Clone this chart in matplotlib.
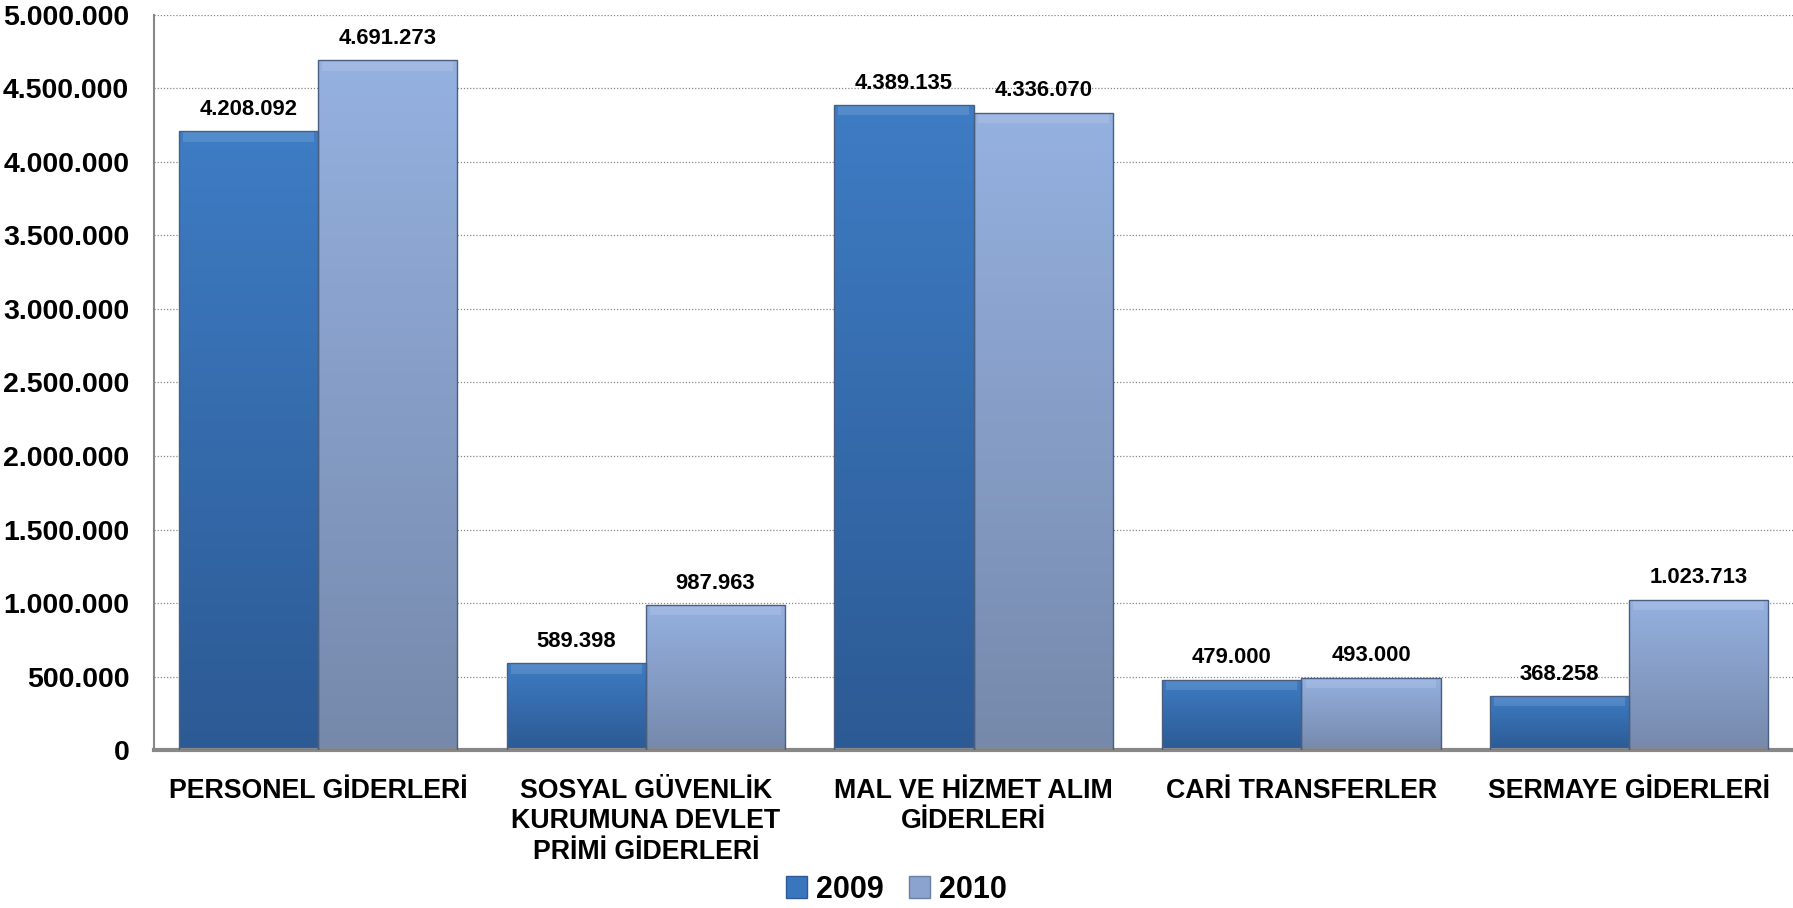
import numpy as np
import matplotlib.pyplot as plt
from matplotlib.patches import Patch
from matplotlib.colors import LinearSegmentedColormap

categories = ['PERSONEL GİDERLERİ',
              'SOSYAL GÜVENLİK\nKURUMUNA DEVLET\nPRİMİ GİDERLERİ',
              'MAL VE HİZMET ALIM\nGİDERLERİ',
              'CARİ TRANSFERLER',
              'SERMAYE GİDERLERİ']
years = ['2009', '2010']
values_2009 = [4208092, 589398, 4389135, 479000, 368258]
values_2010 = [4691273, 987963, 4336070, 493000, 1023713]
yticks = [0, 500000, 1000000, 1500000, 2000000, 2500000, 3000000,
          3500000, 4000000, 4500000, 5000000]

plt.rcParams['font.family'] = ['Liberation Sans', 'DejaVu Sans']
plt.rcParams['font.weight'] = 'bold'

def fmt(v):
    return f'{v:,}'.replace(',', '.')

# top -> bottom colours for each series
grad = {'2009': ('#3e7cc4', '#2c5a94'),
        '2010': ('#95b1e0', '#7689ab')}

fig = plt.figure(figsize=(17.93, 9.08), dpi=100)
ax = fig.add_axes([0.086, 0.174, 0.914, 0.8095])

x = np.arange(len(categories))
w = 0.425
for series, vals, off in [('2009', values_2009, -w / 2), ('2010', values_2010, w / 2)]:
    top, bot = grad[series]
    cmap = LinearSegmentedColormap.from_list(series, [bot, top])
    bars = ax.bar(x + off, vals, width=w, color='none', edgecolor='#4a5f80',
                  linewidth=1.0, zorder=3)
    for b in bars:
        x0, y0 = b.get_x(), b.get_y()
        bw, bh = b.get_width(), b.get_height()
        g = np.linspace(0, 1, 256).reshape(-1, 1)
        im = ax.imshow(g, cmap=cmap, origin='lower', aspect='auto',
                       extent=[x0, x0 + bw, y0, y0 + bh], zorder=2)
        im.set_clip_path(b)
        # light bevel at top of bar
        ax.fill_between([x0 + bw * 0.03, x0 + bw * 0.97], y0 + bh - 70000, y0 + bh,
                        color='white', alpha=0.12, lw=0, zorder=2.5)
    ax.bar_label(bars, labels=[fmt(v) for v in vals], padding=8,
                 fontsize=15.8, fontweight='bold')

ax.set_xlim(-0.5, 4.5)
ax.set_ylim(0, 5000000)
ax.set_yticks(yticks)
ax.set_yticklabels([fmt(v) for v in yticks], fontsize=20.5, fontweight='bold')
ax.set_xticks(x)
ax.set_xticklabels(categories, fontsize=19.3, fontweight='bold', va='top',
                   linespacing=1.22)
ax.tick_params(axis='both', length=0)
ax.tick_params(axis='x', pad=20)
ax.tick_params(axis='y', pad=18)

ax.grid(axis='y', linestyle=(0, (1, 1.5)), color='#888888', linewidth=0.9, zorder=0)
ax.set_axisbelow(True)
for s in ['top', 'right']:
    ax.spines[s].set_visible(False)
ax.spines['left'].set_color('#888888')
ax.spines['left'].set_linewidth(1.5)
ax.spines['bottom'].set_color('#888888')
ax.spines['bottom'].set_linewidth(3)

handles = [Patch(facecolor='#3a76be', edgecolor='#2c5a94', label='2009'),
           Patch(facecolor='#8aa3cf', edgecolor='#6a7fa6', label='2010')]
fig.legend(handles=handles, loc='center', bbox_to_anchor=(0.5, 0.02),
           ncol=2, frameon=False, prop={'weight': 'bold', 'size': 22},
           handlelength=0.7, handleheight=0.7, handletextpad=0.3, columnspacing=0.8)

fig.savefig('out.png', dpi=100)
